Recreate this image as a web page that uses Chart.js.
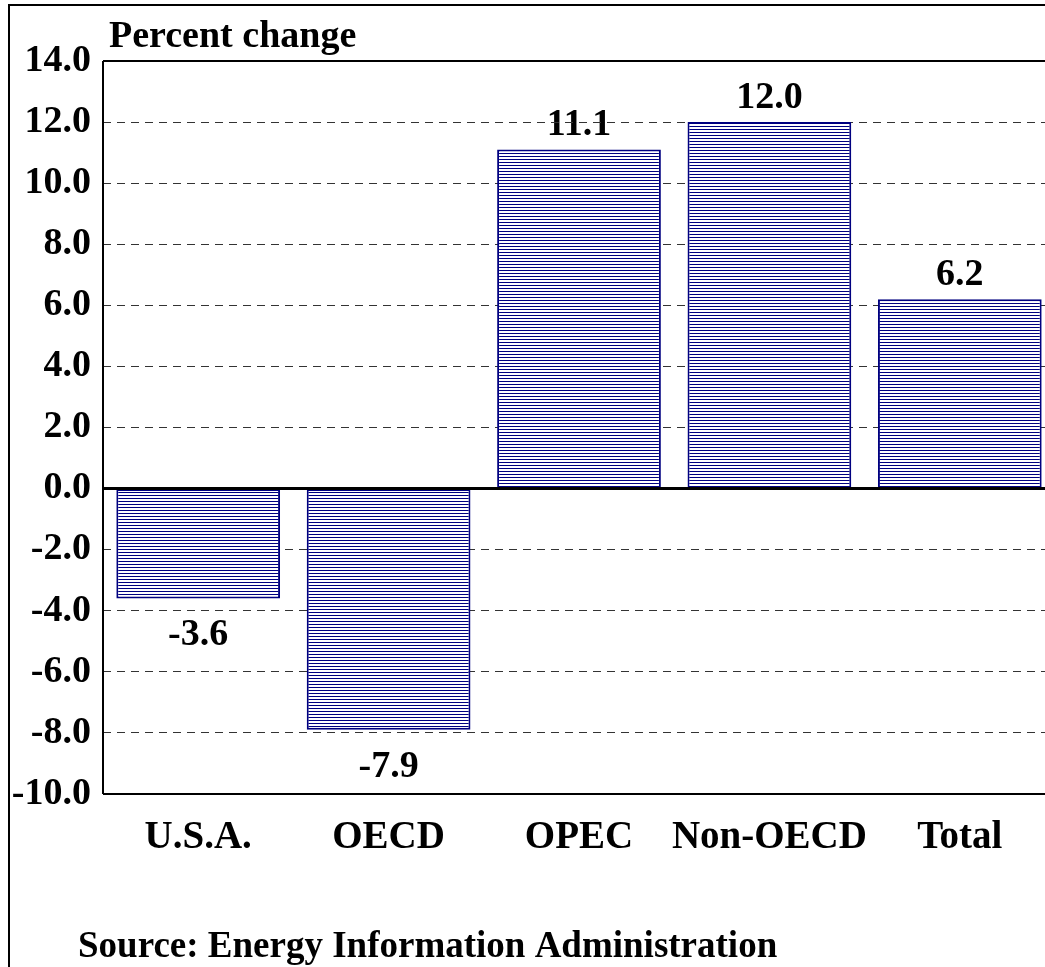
<!DOCTYPE html>
<html>
<head>
<meta charset="utf-8">
<script src="https://cdn.jsdelivr.net/npm/chart.js@4/dist/chart.umd.min.js"></script>
<style>
  html, body { margin: 0; padding: 0; background: #fff; overflow: hidden; }
  body { width: 1045px; height: 967px; position: relative; }
  #frame { position: absolute; left: 8px; top: 4px; width: 1100px; height: 1000px;
           border-left: 2px solid #000; border-top: 2px solid #000; }
  #wrap { position: absolute; left: 0; top: 0; width: 1055px; height: 967px; }
</style>
</head>
<body>
<div id="frame"></div>
<div id="wrap"><canvas id="chart"></canvas></div>
<script>
// Datos del gráfico
const regions = ['U.S.A.', 'OECD', 'OPEC', 'Non-OECD', 'Total'];
const changes = [-3.6, -7.9, 11.1, 12.0, 6.2];
const axisTitle = 'Percent change';
const sourceText = 'Source: Energy Information Administration';

const FONT = '"Liberation Serif", "Times New Roman", serif';
const NAVY = '#000080';

// Trama de líneas horizontales para las barras
function makeHatch() {
    const c = document.createElement('canvas');
    c.width = 8;
    c.height = 3;
    const g = c.getContext('2d');
    g.fillStyle = '#ffffff';
    g.fillRect(0, 0, 8, 3);
    g.fillStyle = NAVY;
    g.fillRect(0, 0, 8, 1);
    return g.createPattern(c, 'repeat');
}

// Etiquetas de valores, marco del gráfico y textos
const extras = {
    id: 'extras',
    beforeDraw(chart) {
        const ctx = chart.ctx;
        const meta = chart.getDatasetMeta(0);
        ctx.save();
        ctx.fillStyle = '#000';
        ctx.font = 'bold 38px ' + FONT;
        ctx.textAlign = 'center';
        ctx.textBaseline = 'middle';
        meta.data.forEach((bar, i) => {
            const v = changes[i];
            const y = v >= 0 ? bar.y - 24 : bar.y + 37;
            ctx.fillText(v.toFixed(1), bar.x, y);
        });
        ctx.textAlign = 'left';
        ctx.textBaseline = 'alphabetic';
        ctx.fillText(axisTitle, 109, 47);
        ctx.font = 'bold 37px ' + FONT;
        ctx.fillText(sourceText, 78, 957);
        ctx.restore();
    },
    afterDatasetsDraw(chart) {
        const ctx = chart.ctx;
        const a = chart.chartArea;
        const y0 = chart.scales.y.getPixelForValue(0);
        ctx.save();
        ctx.strokeStyle = '#000';
        ctx.lineWidth = 2;
        ctx.beginPath();
        ctx.moveTo(a.left, a.top);
        ctx.lineTo(a.left, a.bottom);
        ctx.moveTo(a.left, a.top);
        ctx.lineTo(a.right, a.top);
        ctx.moveTo(a.left, a.bottom);
        ctx.lineTo(a.right, a.bottom);
        ctx.stroke();
        ctx.lineWidth = 3;
        ctx.beginPath();
        ctx.moveTo(a.left, y0);
        ctx.lineTo(a.right, y0);
        ctx.stroke();
        ctx.restore();
    }
};

const ctx = document.getElementById('chart').getContext('2d');
const chart = new Chart(ctx, {
    type: 'bar',
    data: {
        labels: regions,
        datasets: [{
            data: changes,
            backgroundColor: makeHatch(),
            borderColor: NAVY,
            borderWidth: 2,
            borderSkipped: false,
            barPercentage: 0.86,
            categoryPercentage: 1
        }]
    },
    options: {
        responsive: true,
        maintainAspectRatio: false,
        animation: false,
        layout: { padding: { top: 61, left: 0, right: 0, bottom: 0 } },
        plugins: {
            legend: { display: false },
            tooltip: { enabled: false }
        },
        scales: {
            x: {
                grid: { display: false, drawTicks: false },
                border: { display: false },
                ticks: {
                    color: '#000',
                    padding: 21,
                    maxRotation: 0,
                    minRotation: 0,
                    autoSkip: false,
                    font: { family: FONT, size: 39, weight: 'bold' }
                },
                afterFit(scale) { scale.height = 173; }
            },
            y: {
                min: -10,
                max: 14,
                grid: { color: '#333', lineWidth: 1, drawTicks: false },
                border: { display: false, dash: [8, 6] },
                ticks: {
                    stepSize: 2,
                    color: '#000',
                    padding: 12,
                    font: { family: FONT, size: 38, weight: 'bold' },
                    callback: v => v.toFixed(1)
                },
                afterFit(scale) { scale.width = 103; }
            }
        }
    },
    plugins: [extras]
});
</script>
</body>
</html>
